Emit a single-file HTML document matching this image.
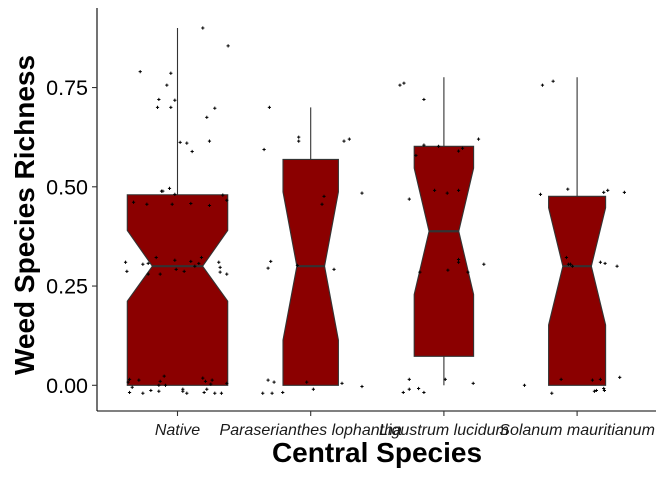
<!DOCTYPE html>
<html><head><meta charset="utf-8"><style>
body{margin:0;background:#fff;}
svg{display:block;font-family:"Liberation Sans",sans-serif;}
</style></head><body>
<svg id="chart" width="666" height="477"></svg>
<script>
const categories=["Native","Paraserianthes lophantha","Ligustrum lucidum","Solanum mauritianum"];
const q1=[0,0,0.073,0];
const medians=[0.3,0.3,0.388,0.3];
const q3=[0.48,0.569,0.602,0.476];
const notchLow=[0.212,0.114,0.229,0.152];
const notchHigh=[0.39,0.487,0.547,0.447];
const whiskerLow=[0,0,0,0];
const whiskerHigh=[0.9,0.70,0.776,0.776];
const boxWidths=[0.754,0.416,0.446,0.428];
const yTicks=[0,0.25,0.5,0.75];
const yTickLabels=["0.00","0.25","0.50","0.75"];
const ptsNative=[[0.90,0.19],[0.855,0.38],[0.79,-0.28],[0.786,-0.05],[0.756,-0.08],[0.72,-0.14],[0.718,-0.02],[0.70,-0.15],[0.70,-0.05],[0.698,0.28],[0.675,0.22],[0.612,0.02],[0.61,0.07],[0.615,0.24],[0.589,0.11],[0.489,-0.12],[0.489,-0.11],[0.496,-0.06],[0.481,-0.02],[0.479,0.34],[0.466,0.37],[0.461,-0.33],[0.456,-0.23],[0.456,-0.04],[0.458,0.10],[0.453,0.24],[0.31,-0.39],[0.287,-0.38],[0.305,-0.26],[0.307,-0.22],[0.322,-0.16],[0.315,-0.02],[0.312,0.10],[0.322,0.18],[0.307,0.16],[0.30,0.13],[0.31,0.31],[0.297,0.32],[0.285,0.32],[0.28,0.37],[0.28,-0.22],[0.28,-0.13],[0.292,-0.01],[0.287,0.05],[0.015,-0.36],[0.008,-0.37],[0.013,-0.29],[-0.005,-0.34],[-0.018,-0.36],[-0.02,-0.26],[-0.013,-0.20],[-0.015,-0.14],[0,-0.14],[0.01,-0.13],[0.023,-0.10],[0,-0.09],[-0.01,0.04],[-0.015,0.04],[-0.02,0.07],[0.018,0.19],[0.01,0.21],[0.013,0.26],[0.003,0.25],[-0.01,0.22],[-0.018,0.20],[-0.02,0.28],[-0.02,0.33],[0.005,0.37]];
const ptsParaserianthes=[[0.70,-0.31],[0.625,-0.09],[0.615,-0.09],[0.615,0.25],[0.62,0.29],[0.594,-0.35],[0.476,0.10],[0.456,0.085],[0.484,0.385],[0.312,-0.30],[0.295,-0.32],[0.302,-0.10],[0.292,0.175],[0.013,-0.32],[0.008,-0.275],[0.008,-0.03],[0.005,0.235],[-0.003,0.385],[-0.01,0.02],[-0.02,-0.36],[-0.02,-0.29],[-0.018,-0.21]];
const ptsLigustrum=[[0.756,-0.33],[0.761,-0.30],[0.72,-0.15],[0.62,0.26],[0.605,-0.15],[0.602,-0.04],[0.597,0.14],[0.59,0.11],[0.579,-0.21],[0.491,-0.07],[0.484,0.025],[0.491,0.11],[0.469,-0.26],[0.317,0.11],[0.31,0.11],[0.305,0.30],[0.29,0.03],[0.285,-0.18],[0.285,0.18],[0.015,-0.26],[0.015,0.01],[0.005,0.22],[-0.01,-0.26],[-0.008,-0.19],[-0.018,-0.305],[-0.018,-0.15]];
const ptsSolanum=[[0.756,-0.26],[0.766,-0.18],[0.494,-0.07],[0.481,-0.275],[0.486,0.20],[0.491,0.23],[0.486,0.355],[0.322,-0.08],[0.305,-0.065],[0.305,-0.05],[0.30,-0.035],[0.31,0.175],[0.307,0.21],[0.30,0.30],[0,-0.395],[0.015,-0.12],[0.013,0.115],[0.015,0.175],[0.02,0.32],[-0.02,-0.19],[-0.015,0.13],[-0.013,0.145],[-0.008,0.20],[-0.013,0.205]];
const points=[ptsNative,ptsParaserianthes,ptsLigustrum,ptsSolanum];

const NS="http://www.w3.org/2000/svg";
const svg=document.getElementById('chart');
function y(v){return 385.3-397*v;}
function x(i){return 177.5+133.2*i;}
const STEP=133.2;
function mk(tag,attrs,parent){const e=document.createElementNS(NS,tag);for(const k in attrs)e.setAttribute(k,attrs[k]);(parent||svg).appendChild(e);return e;}

categories.forEach((c,i)=>{
  const g=mk('g',{});
  
  
  const cx=x(i);
  const wl=mk('line',{x1:cx,x2:cx,y1:y(whiskerHigh[i]),y2:y(q3[i]),stroke:'#333','stroke-width':1.1},g);
  
  
  const wl2=mk('line',{x1:cx,x2:cx,y1:y(q1[i]),y2:y(whiskerLow[i]),stroke:'#333','stroke-width':1.1},g);
  
  
  const hw=boxWidths[i]*STEP/2, nw=hw/2;
  const x0=cx-hw,x1=cx+hw,xi0=cx-nw,xi1=cx+nw;
  const pts=[[x0,y(q3[i])],[x1,y(q3[i])],[x1,y(notchHigh[i])],[xi1,y(medians[i])],[x1,y(notchLow[i])],[x1,y(q1[i])],[x0,y(q1[i])],[x0,y(notchLow[i])],[xi0,y(medians[i])],[x0,y(notchHigh[i])]];
  const p=mk('polygon',{points:pts.map(p=>p.join(',')).join(' '),fill:'#8B0000',stroke:'#333','stroke-width':1.1},g);
  
  
  const m=mk('line',{x1:xi0,x2:xi1,y1:y(medians[i]),y2:y(medians[i]),stroke:'#333','stroke-width':2.2},g);
  
  
});
points.forEach((arr,i)=>{
  arr.forEach(pt=>{
    const px=x(i)+pt[1]*STEP, py=y(pt[0]);
    const e=mk('path',{d:`M${px-1.6},${py}h3.2M${px},${py-1.6}v3.2`,stroke:'#000','stroke-width':1});
    
    
  });
});
const ya=mk('line',{x1:97,x2:97,y1:8,y2:411,stroke:'#000','stroke-width':1.1});


const xa=mk('line',{x1:97,x2:656,y1:411,y2:411,stroke:'#000','stroke-width':1.1});


yTicks.forEach((t,k)=>{
  const tk=mk('line',{x1:92,x2:97,y1:y(t),y2:y(t),stroke:'#333','stroke-width':1.1});
  
  
  const tl=mk('text',{x:88,y:y(t)+7.5,'text-anchor':'end','font-size':21.5,fill:'#000'});
  tl.textContent=yTickLabels[k];
  
  
});
categories.forEach((c,i)=>{
  const tk=mk('line',{x1:x(i),x2:x(i),y1:411,y2:416,stroke:'#333','stroke-width':1.1});
  
  
  const tl=mk('text',{x:x(i),y:435,'text-anchor':'middle','font-size':16,'font-style':'italic',fill:'#1a1a1a'});
  tl.textContent=c;
  
  
});
const xt=mk('text',{x:377,y:462,'text-anchor':'middle','font-size':28,'font-weight':'bold',fill:'#000'});
xt.textContent='Central Species';


const yt=mk('text',{x:0,y:0,'text-anchor':'middle','font-size':28,'font-weight':'bold',fill:'#000',transform:'translate(34,215) rotate(-90)'});
yt.textContent='Weed Species Richness';


</script>
</body></html>
